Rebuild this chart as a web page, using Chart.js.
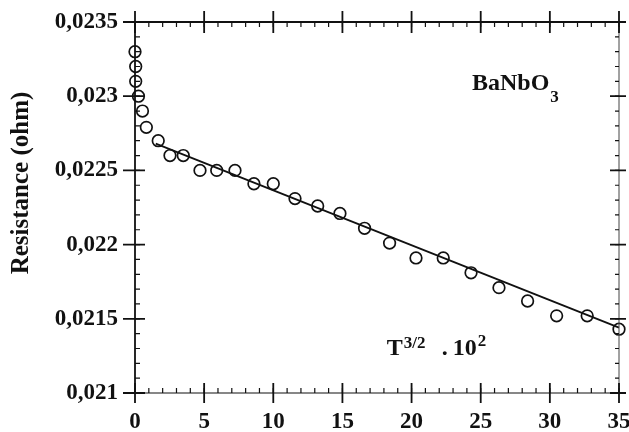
<!DOCTYPE html>
<html><head><meta charset="utf-8">
<script src="https://cdn.jsdelivr.net/npm/chart.js@4.4.1/dist/chart.umd.min.js"></script>
<style>html,body{margin:0;padding:0;background:#fff;} #wrap{width:629px;height:432px;}</style>
</head><body><div id="wrap"><canvas id="c" width="629" height="432"></canvas></div>
<script>
const tempX = [0, 0.05, 0.05, 0.25, 0.54, 0.82, 1.68, 2.53, 3.49, 4.70, 5.91, 7.23, 8.60, 10.0, 11.57, 13.21, 14.82, 16.60, 18.41, 20.32, 22.29, 24.30, 26.32, 28.39, 30.49, 32.70, 35.0];
const resistance = [0.02330, 0.02320, 0.02310, 0.02300, 0.02290, 0.02279, 0.02270, 0.02260, 0.02260, 0.02250, 0.02250, 0.02250, 0.02241, 0.02241, 0.02231, 0.02226, 0.02221, 0.02211, 0.02201, 0.02191, 0.02191, 0.02181, 0.02171, 0.02162, 0.02152, 0.02152, 0.02143];
const fitX = [1.5, 35];
const fitR = [0.02268, 0.02144];
const xMajorTicks = [0, 5, 10, 15, 20, 25, 30, 35];
const xTickLabels = ['0', '5', '10', '15', '20', '25', '30', '35'];
const yMajorTicks = [0.021, 0.0215, 0.022, 0.0225, 0.023, 0.0235];
const yTickLabels = ['0,021', '0,0215', '0,022', '0,0225', '0,023', '0,0235'];
const xMinorStep = 1;
const yMinorStep = 0.0001;
const yTitle = 'Resistance (ohm)';
const sampleLabel = ['BaNbO', '3'];
const axisLabel = ['T', '3/2', '.', '10', '2'];

const INK = '#111';
const SERIF = '"Liberation Serif", "Times New Roman", serif';

const framePlugin = {
  id: 'frame',
  afterDatasetsDraw(chart) {
    const ctx = chart.ctx;
    const xs = chart.scales.x, ys = chart.scales.y;
    const a = chart.chartArea;
    ctx.save();
    ctx.strokeStyle = INK;
    ctx.lineCap = 'butt';
    // borders
    ctx.lineWidth = 1.8;
    ctx.beginPath();
    ctx.moveTo(a.left, a.top); ctx.lineTo(a.left, a.bottom);
    ctx.moveTo(a.left, a.top); ctx.lineTo(a.right, a.top);
    ctx.stroke();
    ctx.lineWidth = 1.2;
    ctx.beginPath();
    ctx.moveTo(a.left, a.bottom); ctx.lineTo(a.right, a.bottom);
    ctx.stroke();
    ctx.strokeStyle = '#444';
    ctx.lineWidth = 1;
    ctx.beginPath();
    ctx.moveTo(a.right, a.top); ctx.lineTo(a.right, a.bottom);
    ctx.stroke();
    ctx.strokeStyle = INK;
    // x minor ticks
    ctx.lineWidth = 1.2;
    ctx.beginPath();
    for (let v = xs.min; v <= xs.max + 1e-9; v += xMinorStep) {
      const px = xs.getPixelForValue(v);
      ctx.moveTo(px, a.bottom); ctx.lineTo(px, a.bottom - 5);
      ctx.moveTo(px, a.top); ctx.lineTo(px, a.top + 5);
    }
    // y minor ticks
    const n = Math.round((ys.max - ys.min) / yMinorStep);
    for (let i = 0; i <= n; i++) {
      const py = ys.getPixelForValue(ys.min + i * yMinorStep);
      ctx.moveTo(a.left, py); ctx.lineTo(a.left + 5, py);
      ctx.moveTo(a.right, py); ctx.lineTo(a.right - 4, py);
    }
    ctx.stroke();
    // major ticks
    ctx.lineWidth = 1.8;
    ctx.beginPath();
    xMajorTicks.forEach(v => {
      const px = xs.getPixelForValue(v);
      ctx.moveTo(px, a.bottom - 10); ctx.lineTo(px, a.bottom + 10);
      ctx.moveTo(px, a.top - 11); ctx.lineTo(px, a.top + 11);
    });
    yMajorTicks.forEach(v => {
      const py = ys.getPixelForValue(v);
      ctx.moveTo(a.left - 12, py); ctx.lineTo(a.left + 10, py);
      ctx.moveTo(a.right - 9, py); ctx.lineTo(a.right + 7, py);
    });
    ctx.stroke();

    // y title
    ctx.fillStyle = INK;
    ctx.save();
    ctx.translate(22, 183);
    ctx.rotate(-Math.PI / 2);
    ctx.font = 'bold 25px ' + SERIF;
    ctx.textAlign = 'center';
    ctx.textBaseline = 'middle';
    ctx.fillText(yTitle, 0, 0);
    ctx.restore();

    // sample label
    ctx.textAlign = 'left';
    ctx.textBaseline = 'alphabetic';
    const sx = xs.getPixelForValue(24.37), sy = ys.getPixelForValue(0.023042);
    ctx.font = 'bold 24px ' + SERIF;
    ctx.fillText(sampleLabel[0], sx, sy);
    const w0 = ctx.measureText(sampleLabel[0]).width;
    ctx.font = 'bold 17px ' + SERIF;
    ctx.fillText(sampleLabel[1], sx + w0 + 1, sy + 12);

    // axis label T^{3/2} . 10^2
    const tx = xs.getPixelForValue(18.2), ty = ys.getPixelForValue(0.021256);
    ctx.font = 'bold 24px ' + SERIF;
    ctx.fillText(axisLabel[0], tx, ty);
    ctx.font = 'bold 17px ' + SERIF;
    ctx.fillText(axisLabel[1], tx + 17, ty - 7);
    ctx.font = 'bold 24px ' + SERIF;
    ctx.fillText(axisLabel[2], tx + 55, ty);
    ctx.fillText(axisLabel[3], tx + 66, ty);
    ctx.font = 'bold 17px ' + SERIF;
    ctx.fillText(axisLabel[4], tx + 91, ty - 9);
    ctx.restore();
  }
};

new Chart(document.getElementById('c'), {
  data: {
    datasets: [
      {
        type: 'line',
        data: fitX.map((x, i) => ({ x, y: fitR[i] })),
        borderColor: INK,
        borderWidth: 1.8,
        pointRadius: 0,
        fill: false,
        clip: false
      },
      {
        type: 'scatter',
        data: tempX.map((x, i) => ({ x, y: resistance[i] })),
        pointStyle: 'circle',
        pointRadius: 5.8,
        pointBorderWidth: 1.7,
        borderColor: INK,
        backgroundColor: 'rgba(0,0,0,0)',
        clip: false
      }
    ]
  },
  options: {
    responsive: false,
    animation: false,
    devicePixelRatio: 1,
    layout: { padding: { top: 22, right: 10, left: 0, bottom: 0 } },
    plugins: { legend: { display: false }, tooltip: { enabled: false } },
    scales: {
      x: {
        type: 'linear',
        min: 0, max: 35,
        afterBuildTicks: s => { s.ticks = xMajorTicks.map(v => ({ value: v })); },
        afterFit: s => { s.height = 39; s.paddingLeft = 0; s.paddingRight = 0; },
        ticks: {
          callback: (v, i) => xTickLabels[i],
          font: { family: SERIF, size: 23, weight: 'bold' },
          color: INK,
          padding: 15,
          maxRotation: 0,
          autoSkip: false
        },
        grid: { display: false, drawTicks: false },
        border: { display: false }
      },
      y: {
        type: 'linear',
        min: 0.021, max: 0.0235,
        afterBuildTicks: s => { s.ticks = yMajorTicks.map(v => ({ value: v })); },
        afterFit: s => { s.width = 135; s.paddingTop = 0; s.paddingBottom = 0; },
        ticks: {
          callback: (v, i) => yTickLabels[i],
          font: { family: SERIF, size: 23, weight: 'bold' },
          color: INK,
          padding: 17,
          autoSkip: false
        },
        grid: { display: false, drawTicks: false },
        border: { display: false }
      }
    }
  },
  plugins: [framePlugin]
});
</script>
</body></html>
